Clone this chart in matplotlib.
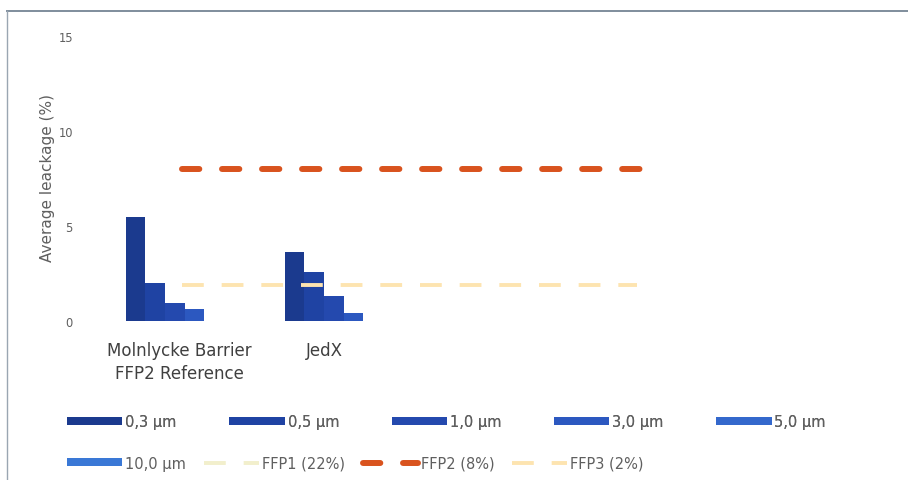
import numpy as np
import matplotlib.pyplot as plt
from matplotlib.lines import Line2D
from matplotlib.transforms import ScaledTranslation

# Datos (fuga media en %)
categories = ["Molnlycke Barrier\nFFP2 Reference", "JedX"]
sizes = ["0,3 µm", "0,5 µm", "1,0 µm", "3,0 µm", "5,0 µm", "10,0 µm"]
leak_03 = [5.5, 3.66]
leak_05 = [2.0, 2.58]
leak_10 = [0.95, 1.32]
leak_30 = [0.63, 0.44]
leak_50 = [np.nan, np.nan]
leak_100 = [np.nan, np.nan]

# Niveles de referencia FFP
ffp_labels = ["FFP1 (22%)", "FFP2 (8%)", "FFP3 (2%)"]
ffp_levels = [22, 8, 1.9]
ffp_start = [0.11, 0.11, 0.11]
ffp_end = [3.12, 3.12, 2.97]

n_slots = 5  # el eje tiene 5 huecos de categoria, solo 2 con datos

bar_colors = ["#1b3a8e", "#1f43a3", "#2449ae", "#2c58c0", "#3468cc", "#3a78d6"]
text_gray = "#5f5f5f"

W, H = 908, 481
fig = plt.figure(figsize=(W / 100, H / 100), dpi=100)
fig.patch.set_facecolor("white")

# Area de trazado en pixeles
left, right, top, bottom = 85.5, 880.5, 37, 322.3
ax = fig.add_axes([left / W, 1 - bottom / H, (right - left) / W, (bottom - top) / H])

series = [leak_03, leak_05, leak_10, leak_30, leak_50, leak_100]
x = np.arange(len(categories))
w = 0.123
bar_handles = []
for i, vals in enumerate(series):
    b = ax.bar(x + (i - 1.5) * w, vals, width=w, color=bar_colors[i],
               linewidth=0, label=sizes[i], zorder=2)
    bar_handles.append(b)

# Lineas de referencia
line_styles = [
    dict(color="#f2efcc", lw=2.8, ls=(0, (5.6, 4.6)), dash_capstyle="butt"),
    dict(color="#d9531e", lw=4.3, ls=(0, (2.9, 3.8)), dash_capstyle="round"),
    dict(color="#fde4b0", lw=2.8, ls=(0, (5.6, 4.6)), dash_capstyle="butt"),
]
line_handles = []
for lvl, s, e, lab, st in zip(ffp_levels, ffp_start, ffp_end, ffp_labels, line_styles):
    ln, = ax.plot([s, e], [lvl, lvl], label=lab, zorder=3, **st)
    line_handles.append(ln)

ax.set_xlim(-0.5, n_slots - 0.5)
ax.set_ylim(0, 15)
ax.set_yticks([0, 5, 10, 15])
ax.set_xticks(x)
ax.set_xticklabels(categories, fontsize=12, color="#404040", linespacing=1.4)
ax.tick_params(axis="y", length=0, pad=9, labelsize=8.3, labelcolor=text_gray)
ax.tick_params(axis="x", length=0, pad=14)
for sp in ax.spines.values():
    sp.set_visible(False)

# En el original la primera etiqueta queda algo a la derecha de su grupo
lbl = ax.get_xticklabels()[0]
lbl.set_transform(lbl.get_transform() + ScaledTranslation(0.14, 0, fig.dpi_scale_trans))

fig.text(48 / W, 1 - 178 / H, "Average leackage (%)", rotation=90,
         ha="center", va="center", fontsize=11, color=text_gray)

# Leyenda en dos filas, como en el original
leg_kw = dict(frameon=False, fontsize=10.5, labelcolor=text_gray, handlelength=3.8,
              handleheight=0.5, handletextpad=0.2, borderpad=0, borderaxespad=0,
              loc="center left", bbox_transform=fig.transFigure)
leg1 = fig.legend(bar_handles[:5], sizes[:5], ncol=5, columnspacing=3.6,
                  bbox_to_anchor=(67 / W, 1 - 423 / H), **leg_kw)
fig.add_artist(leg1)
fig.legend([bar_handles[5]] + line_handles, [sizes[5]] + ffp_labels, ncol=4,
           columnspacing=1.2, bbox_to_anchor=(67 / W, 1 - 464 / H), **leg_kw)

# Marco del grafico (solo se ve arriba y a la izquierda)
fig.add_artist(Line2D([7 / W, 1], [1 - 12 / H, 1 - 12 / H], color="#7f8d9c", lw=1.4))
fig.add_artist(Line2D([7 / W, 7 / W], [0, 1 - 12 / H], color="#9aa6b2", lw=1.0))

fig.savefig("out.png", dpi=100)
